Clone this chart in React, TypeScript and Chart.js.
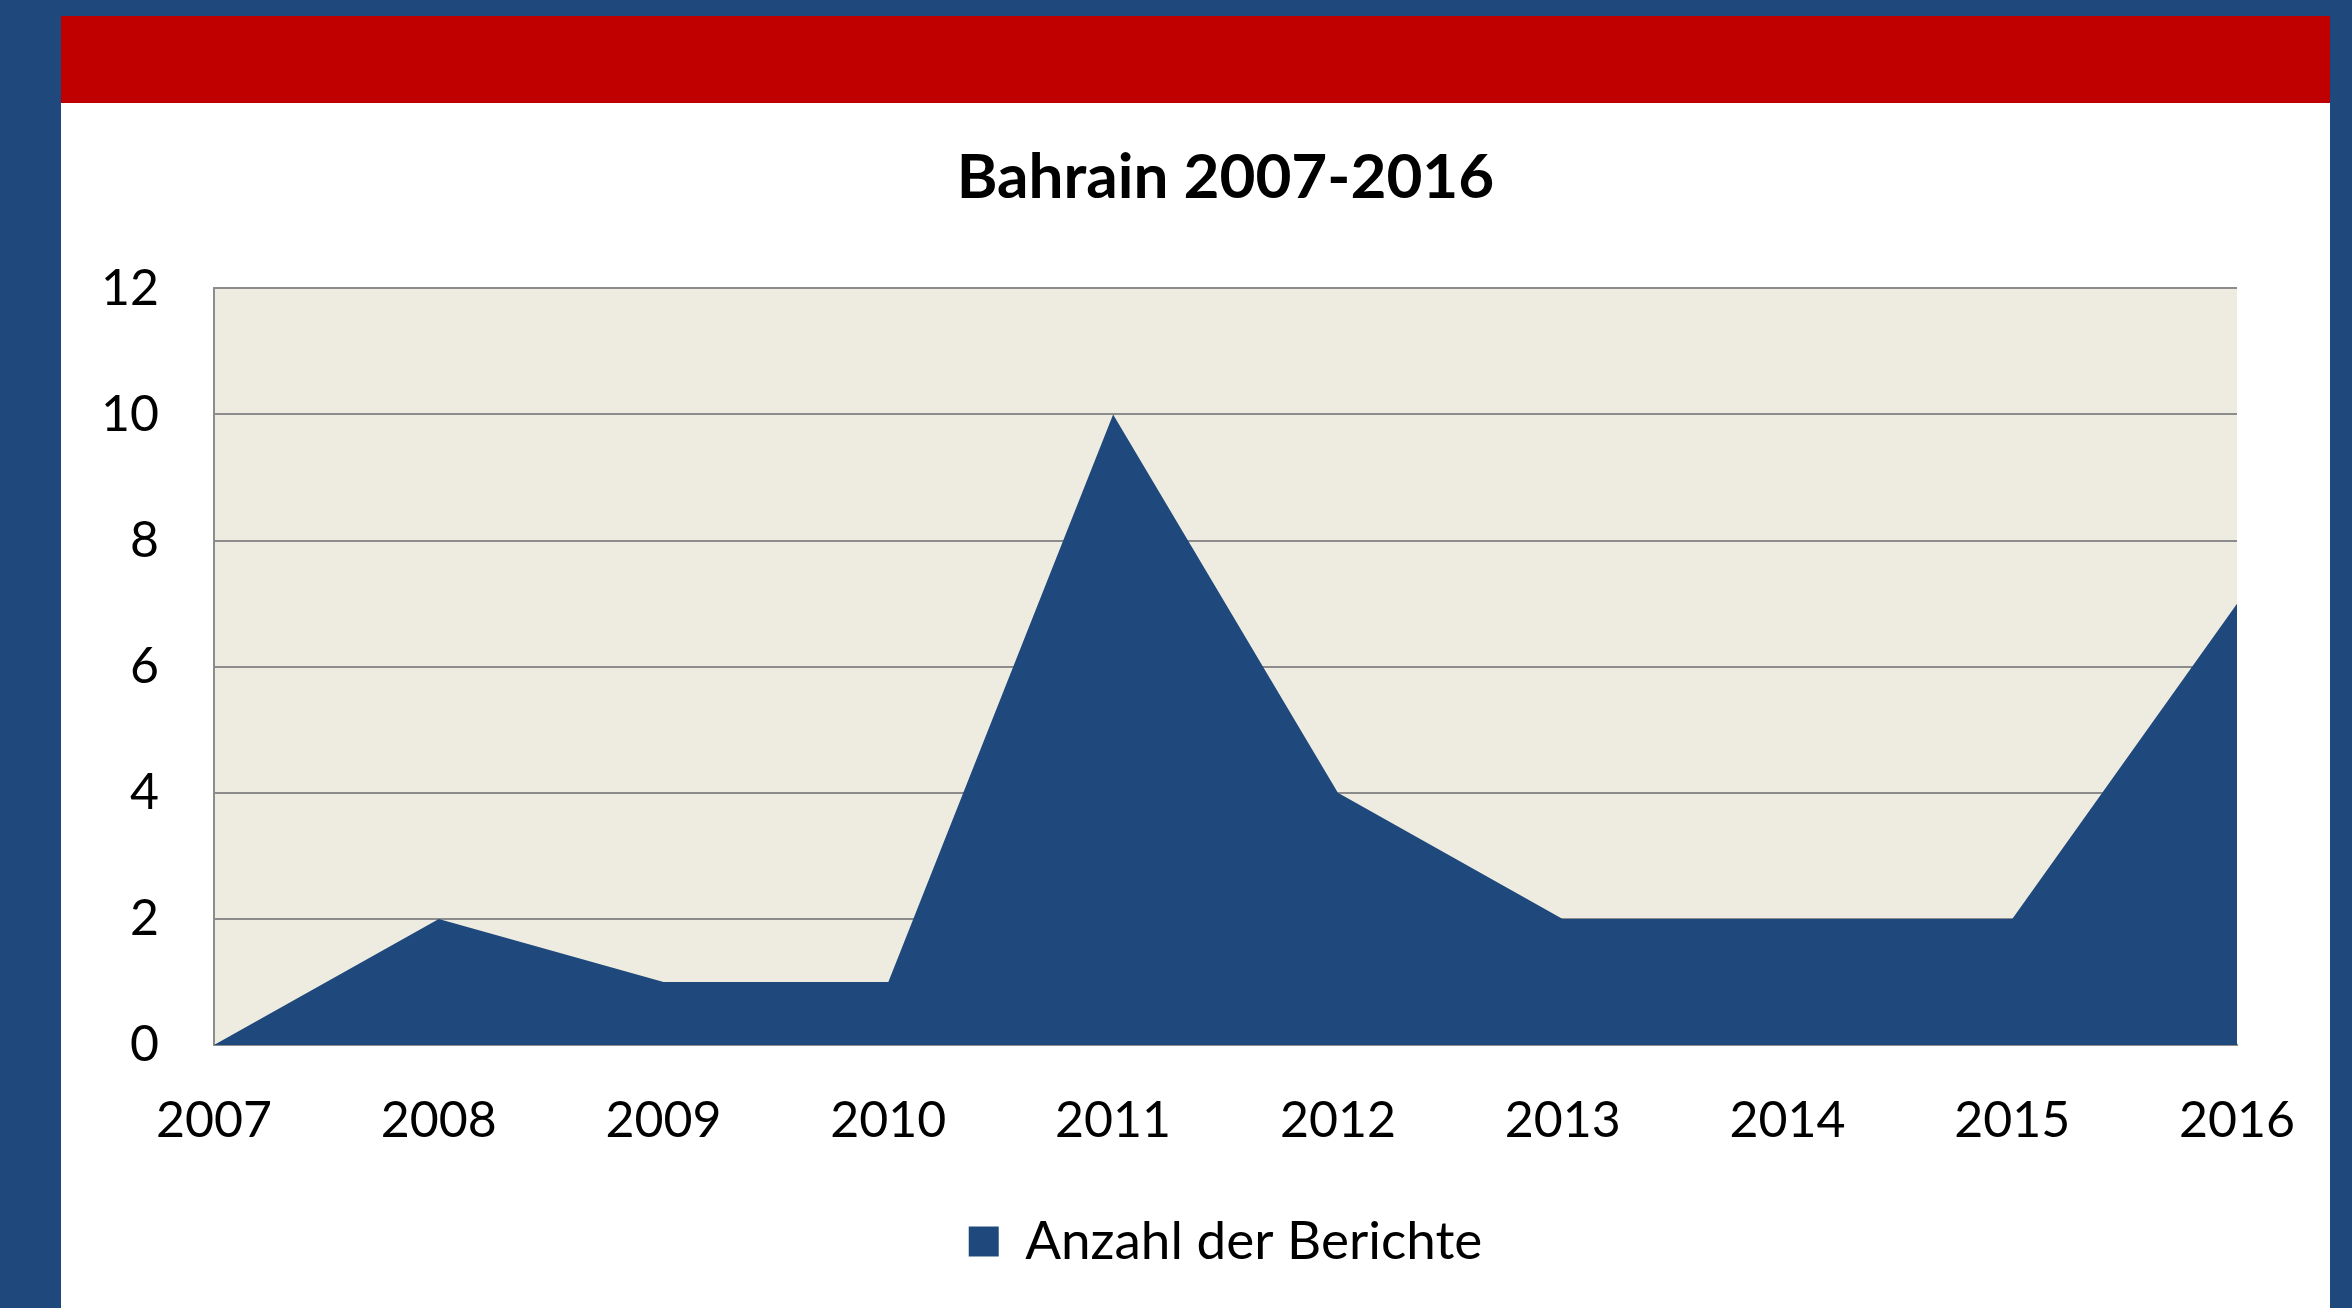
import React, { useEffect, useRef } from "react";
import { Chart, registerables } from "chart.js";

Chart.register(...registerables);

const years = ["2007", "2008", "2009", "2010", "2011", "2012", "2013", "2014", "2015", "2016"];
const reports = [0, 2, 1, 1, 10, 4, 2, 2, 2, 7];
const seriesLabel = "Anzahl der Berichte";
const chartTitle = "Bahrain 2007-2016";
const yMin = 0;
const yMax = 12;
const yStep = 2;

const BLUE = "#1F497D";
const RED = "#C00000";
const PLOT_BG = "#EEECE1";
const GRID = "#8C8C8C";
const FONT = "Lato, 'Open Sans', sans-serif";

const plotBg = {
  id: "plotBg",
  beforeDraw(chart: any) {
    const { ctx, chartArea } = chart;
    if (!chartArea) return;
    ctx.save();
    ctx.fillStyle = PLOT_BG;
    ctx.fillRect(chartArea.left, chartArea.top, chartArea.right - chartArea.left, chartArea.bottom - chartArea.top);
    ctx.restore();
  },
};

export default function App() {
  const ref = useRef<HTMLCanvasElement | null>(null);

  useEffect(() => {
    if (!ref.current) return;
    const chart = new Chart(ref.current, {
      type: "line",
      data: {
        labels: years,
        datasets: [
          {
            label: seriesLabel,
            data: reports,
            fill: "origin",
            backgroundColor: BLUE,
            borderColor: BLUE,
            borderWidth: 0,
            pointRadius: 0,
            tension: 0,
          },
        ],
      },
      options: {
        responsive: false,
        animation: false,
        devicePixelRatio: 1,
        layout: { padding: { left: 32, right: 115, top: 23, bottom: 30 } },
        plugins: {
          title: {
            display: true,
            fullSize: false,
            text: chartTitle,
            color: "#000",
            font: { family: FONT, size: 62, weight: "bold" },
            padding: { top: 15, bottom: 73 },
          },
          legend: {
            display: true,
            fullSize: false,
            position: "bottom",
            labels: {
              color: "#000",
              font: { family: FONT, size: 53 },
              boxWidth: 30,
              boxHeight: 30,
              padding: 10,
            },
          },
          tooltip: { enabled: false },
        },
        scales: {
          x: {
            type: "category",
            offset: false,
            grid: { display: false, drawTicks: false },
            border: { display: true, color: GRID, width: 2 },
            ticks: { color: "#000", font: { family: FONT, size: 50 }, padding: 46, maxRotation: 0, autoSkip: false },
            afterFit(scale: any) {
              scale.height += 8;
            },
          },
          y: {
            min: yMin,
            max: yMax,
            grid: { color: GRID, lineWidth: 2, drawTicks: false },
            border: { display: true, color: GRID, width: 2 },
            ticks: { stepSize: yStep, color: "#000", font: { family: FONT, size: 50 }, padding: 55 },
            afterFit(scale: any) {
              scale.width = 121;
            },
          },
        },
      },
      plugins: [plotBg],
    });
    return () => chart.destroy();
  }, []);

  return (
    <div style={{ position: "fixed", left: 0, top: 0, width: 2352, height: 1308, background: BLUE, overflow: "hidden" }}>
      <div style={{ position: "absolute", left: 61, top: 16, width: 2269, height: 1292, background: "#fff" }}>
        <div style={{ position: "absolute", left: 0, top: 0, width: 2269, height: 87, background: RED }} />
      </div>
      <canvas ref={ref} width={2291} height={1205} style={{ position: "absolute", left: 61, top: 103, width: 2291, height: 1205 }} />
    </div>
  );
}
